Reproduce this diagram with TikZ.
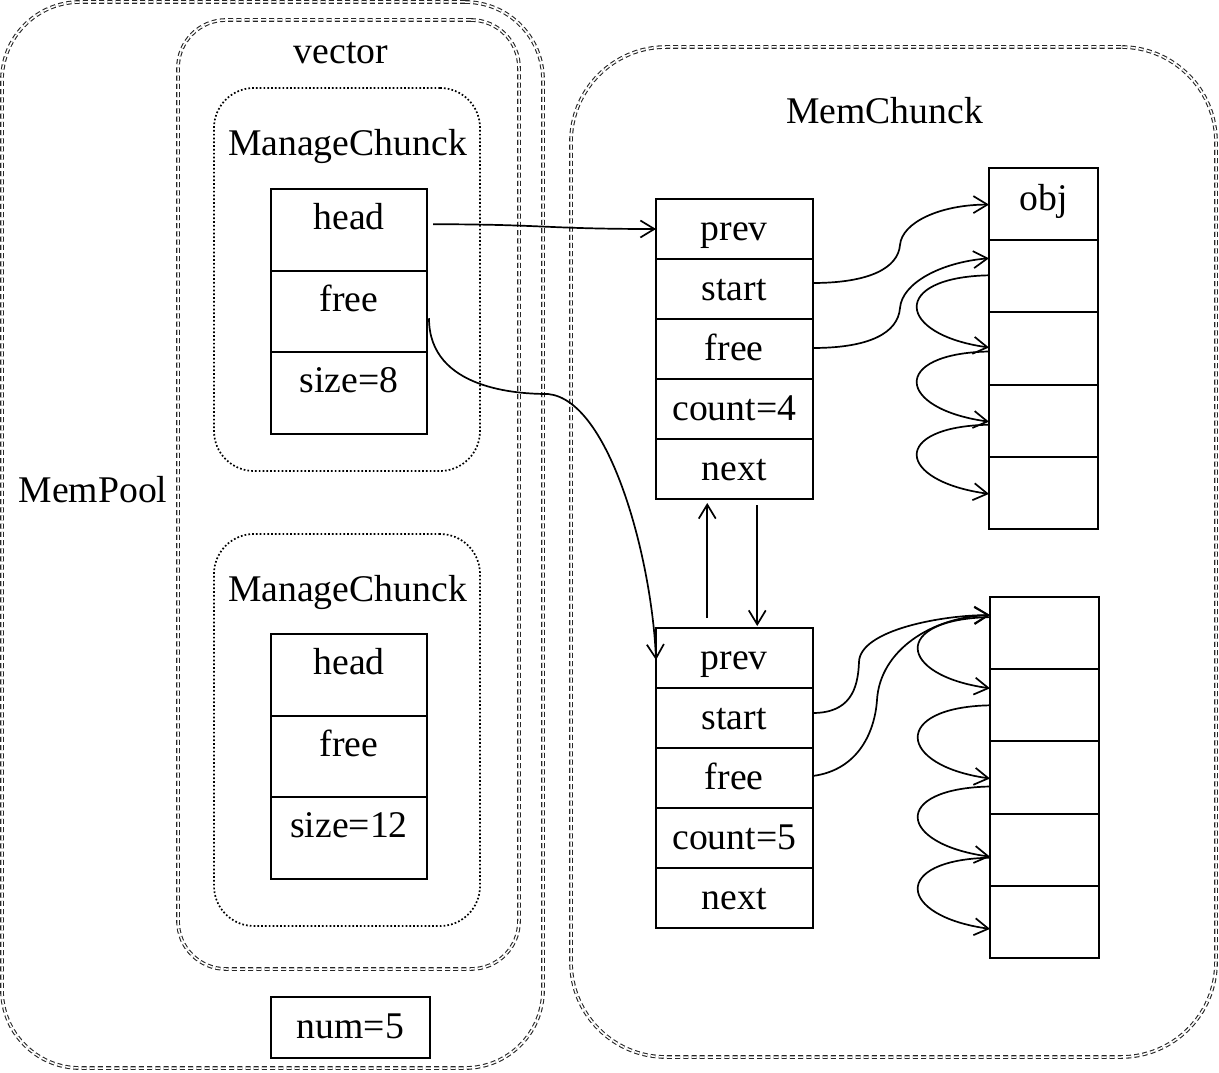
\documentclass[tikz,border=0pt]{standalone}
\usepackage{fontspec}
\setmainfont{Liberation Serif}
\usetikzlibrary{arrows.meta,calc}
\begin{document}
\begin{tikzpicture}[x=1pt,y=-1pt,
  every node/.style={font=\fontsize{37.7}{45}\selectfont, inner sep=0pt, outer sep=0pt},
  dbl/.style={draw=black!85, double=white, double distance=1.5pt, line width=1.1pt, dash pattern=on 5pt off 3.2pt},
  dots/.style={draw=black, line width=1.7pt, dash pattern=on 1.7pt off 2.1pt},
  lcell/.style={draw, line width=2pt, anchor=north west, minimum width=156pt, minimum height=81.5pt, text height=14pt, text depth=14pt},
  rcell/.style={draw, line width=2pt, anchor=north west, minimum width=156.5pt, minimum height=60pt, text height=30pt, text depth=8pt},
  ocell/.style={draw, line width=2pt, anchor=north west, minimum width=109pt, minimum height=72.2pt, text height=20pt, text depth=8pt},
  arr/.style={line width=1.7pt, -{Straight Barb[length=14pt,width=17pt]}},
  ttl/.style={anchor=base}
]
\useasboundingbox (0,0) rectangle (1219,1073);

% containers
\node[dbl, rounded corners=78pt, minimum width=541pt, minimum height=1066pt] (mempool) at (272.5,535) {};
\node[dbl, rounded corners=48pt, minimum width=341pt, minimum height=949pt] (vect) at (348.5,494.5) {};
\node[dots, rounded corners=40pt, minimum width=266pt, minimum height=383pt] (mc1) at (347,279.5) {};
\node[dots, rounded corners=40pt, minimum width=266pt, minimum height=392pt] (mc2) at (347,730) {};
\node[dbl, rounded corners=95pt, minimum width=645pt, minimum height=1010pt] (memchunk) at (893.5,552) {};

% titles
\node[ttl] (tvec) at (341,64) {vector};
\node[ttl] (tmc1) at (347.5,155) {ManageChunck};
\node[ttl] (tmc2) at (347.5,601) {ManageChunck};
\node[ttl] (tpool) at (93,502) {MemPool};
\node[ttl] (tchunk) at (884.5,123) {MemChunck};

% left tables
\node[lcell] (lh1) at (271,189) {head};
\node[lcell] (lf1) at (271,270.5) {free};
\node[lcell] (ls1) at (271,352) {size=8};
\node[lcell] (lh2) at (271,634) {head};
\node[lcell] (lf2) at (271,715.5) {free};
\node[lcell] (ls2) at (271,797) {size=12};

\node[draw, line width=2pt, minimum width=159pt, minimum height=61pt, text height=28pt, text depth=7pt] (num) at (350.5,1027.5) {num=5};

% upper chunk table
\node[rcell] (pp1) at (656,199) {prev};
\node[rcell] (st1) at (656,259) {start};
\node[rcell] (fr1) at (656,319) {free};
\node[rcell] (ct1) at (656,379) {count=4};
\node[rcell] (nx1) at (656,439) {next};

% lower chunk table
\node[rcell] (pp2) at (656,628) {prev};
\node[rcell] (st2) at (656,688) {start};
\node[rcell] (fr2) at (656,748) {free};
\node[rcell] (ct2) at (656,808) {count=5};
\node[rcell] (nx2) at (656,868) {next};

% upper object column
\node[ocell] (o1) at (989,168) {obj};
\node[ocell] (o2) at (989,240.2) {};
\node[ocell] (o3) at (989,312.4) {};
\node[ocell] (o4) at (989,384.6) {};
\node[ocell] (o5) at (989,456.8) {};

% lower object column
\node[ocell] (q1) at (990,597) {};
\node[ocell] (q2) at (990,669.2) {};
\node[ocell] (q3) at (990,741.4) {};
\node[ocell] (q4) at (990,813.6) {};
\node[ocell] (q5) at (990,885.8) {};

% connectors
\draw[arr] ($(lh1.east)+(6,-5.5)$) .. controls +(110,0) and +(-110,0) .. (pp1.west);
\draw[arr] ($(lf1.east)+(2,7)$) .. controls +(0,72) and +(-28,0) .. (548,394)
   .. controls +(62,6) and +(-4,-100) .. ($(pp2.west)+(0,2)$);

\draw[arr] ($(pp2.north)+(-27,-10)$) -- ($(nx1.south)+(-27,4)$);
\draw[arr] ($(nx1.south)+(23,6)$) -- ($(pp2.north)+(23,-2)$);

% upper pointers
\draw[arr] ($(st1.east)+(0,-6)$) .. controls +(57,0) and +(-2,23) .. (900,245)
   .. controls +(2,-23) and +(-48,0) .. ($(o1.west)+(0,0.5)$);
\draw[arr] ($(fr1.east)+(0,-1)$) .. controls +(57,0) and +(-2,25) .. (900,308)
   .. controls +(2,-25) and +(-48,4) .. ($(o2.west)+(0,-18)$);
\draw[arr] ($(o2.west)+(0,-1)$) .. controls +(-99,2) and +(-93,-13) .. ($(o3.west)+(0,-1)$);
\draw[arr] ($(o3.west)+(0,3)$) .. controls +(-99,2) and +(-93,-13) .. ($(o4.west)+(0,1)$);
\draw[arr] ($(o4.west)+(0,4)$) .. controls +(-99,2) and +(-93,-13) .. ($(o5.west)+(0,1)$);

% lower pointers
\draw[arr] ($(st2.east)+(0,-5)$) .. controls +(37,0) and +(-1,28) .. (859,662)
   .. controls +(1,-32) and +(-48,0) .. ($(q1.west)+(0,-18)$);
\draw[arr] ($(fr2.east)+(0,-2)$) .. controls +(47,-6) and +(-2,30) .. (877,700)
   .. controls +(3,-50) and +(-58,2) .. ($(q1.west)+(0,-18)$);
\draw[arr] ($(q1.west)+(0,-16)$) .. controls +(-99,2) and +(-93,-13) .. ($(q2.west)+(0,-17)$);
\draw[arr] ($(q2.west)+(0,0)$) .. controls +(-99,2) and +(-93,-13) .. ($(q3.west)+(0,1)$);
\draw[arr] ($(q3.west)+(0,9)$) .. controls +(-99,2) and +(-93,-13) .. ($(q4.west)+(0,7)$);
\draw[arr] ($(q4.west)+(0,8)$) .. controls +(-99,2) and +(-93,-13) .. ($(q5.west)+(0,7)$);
\end{tikzpicture}
\end{document}
